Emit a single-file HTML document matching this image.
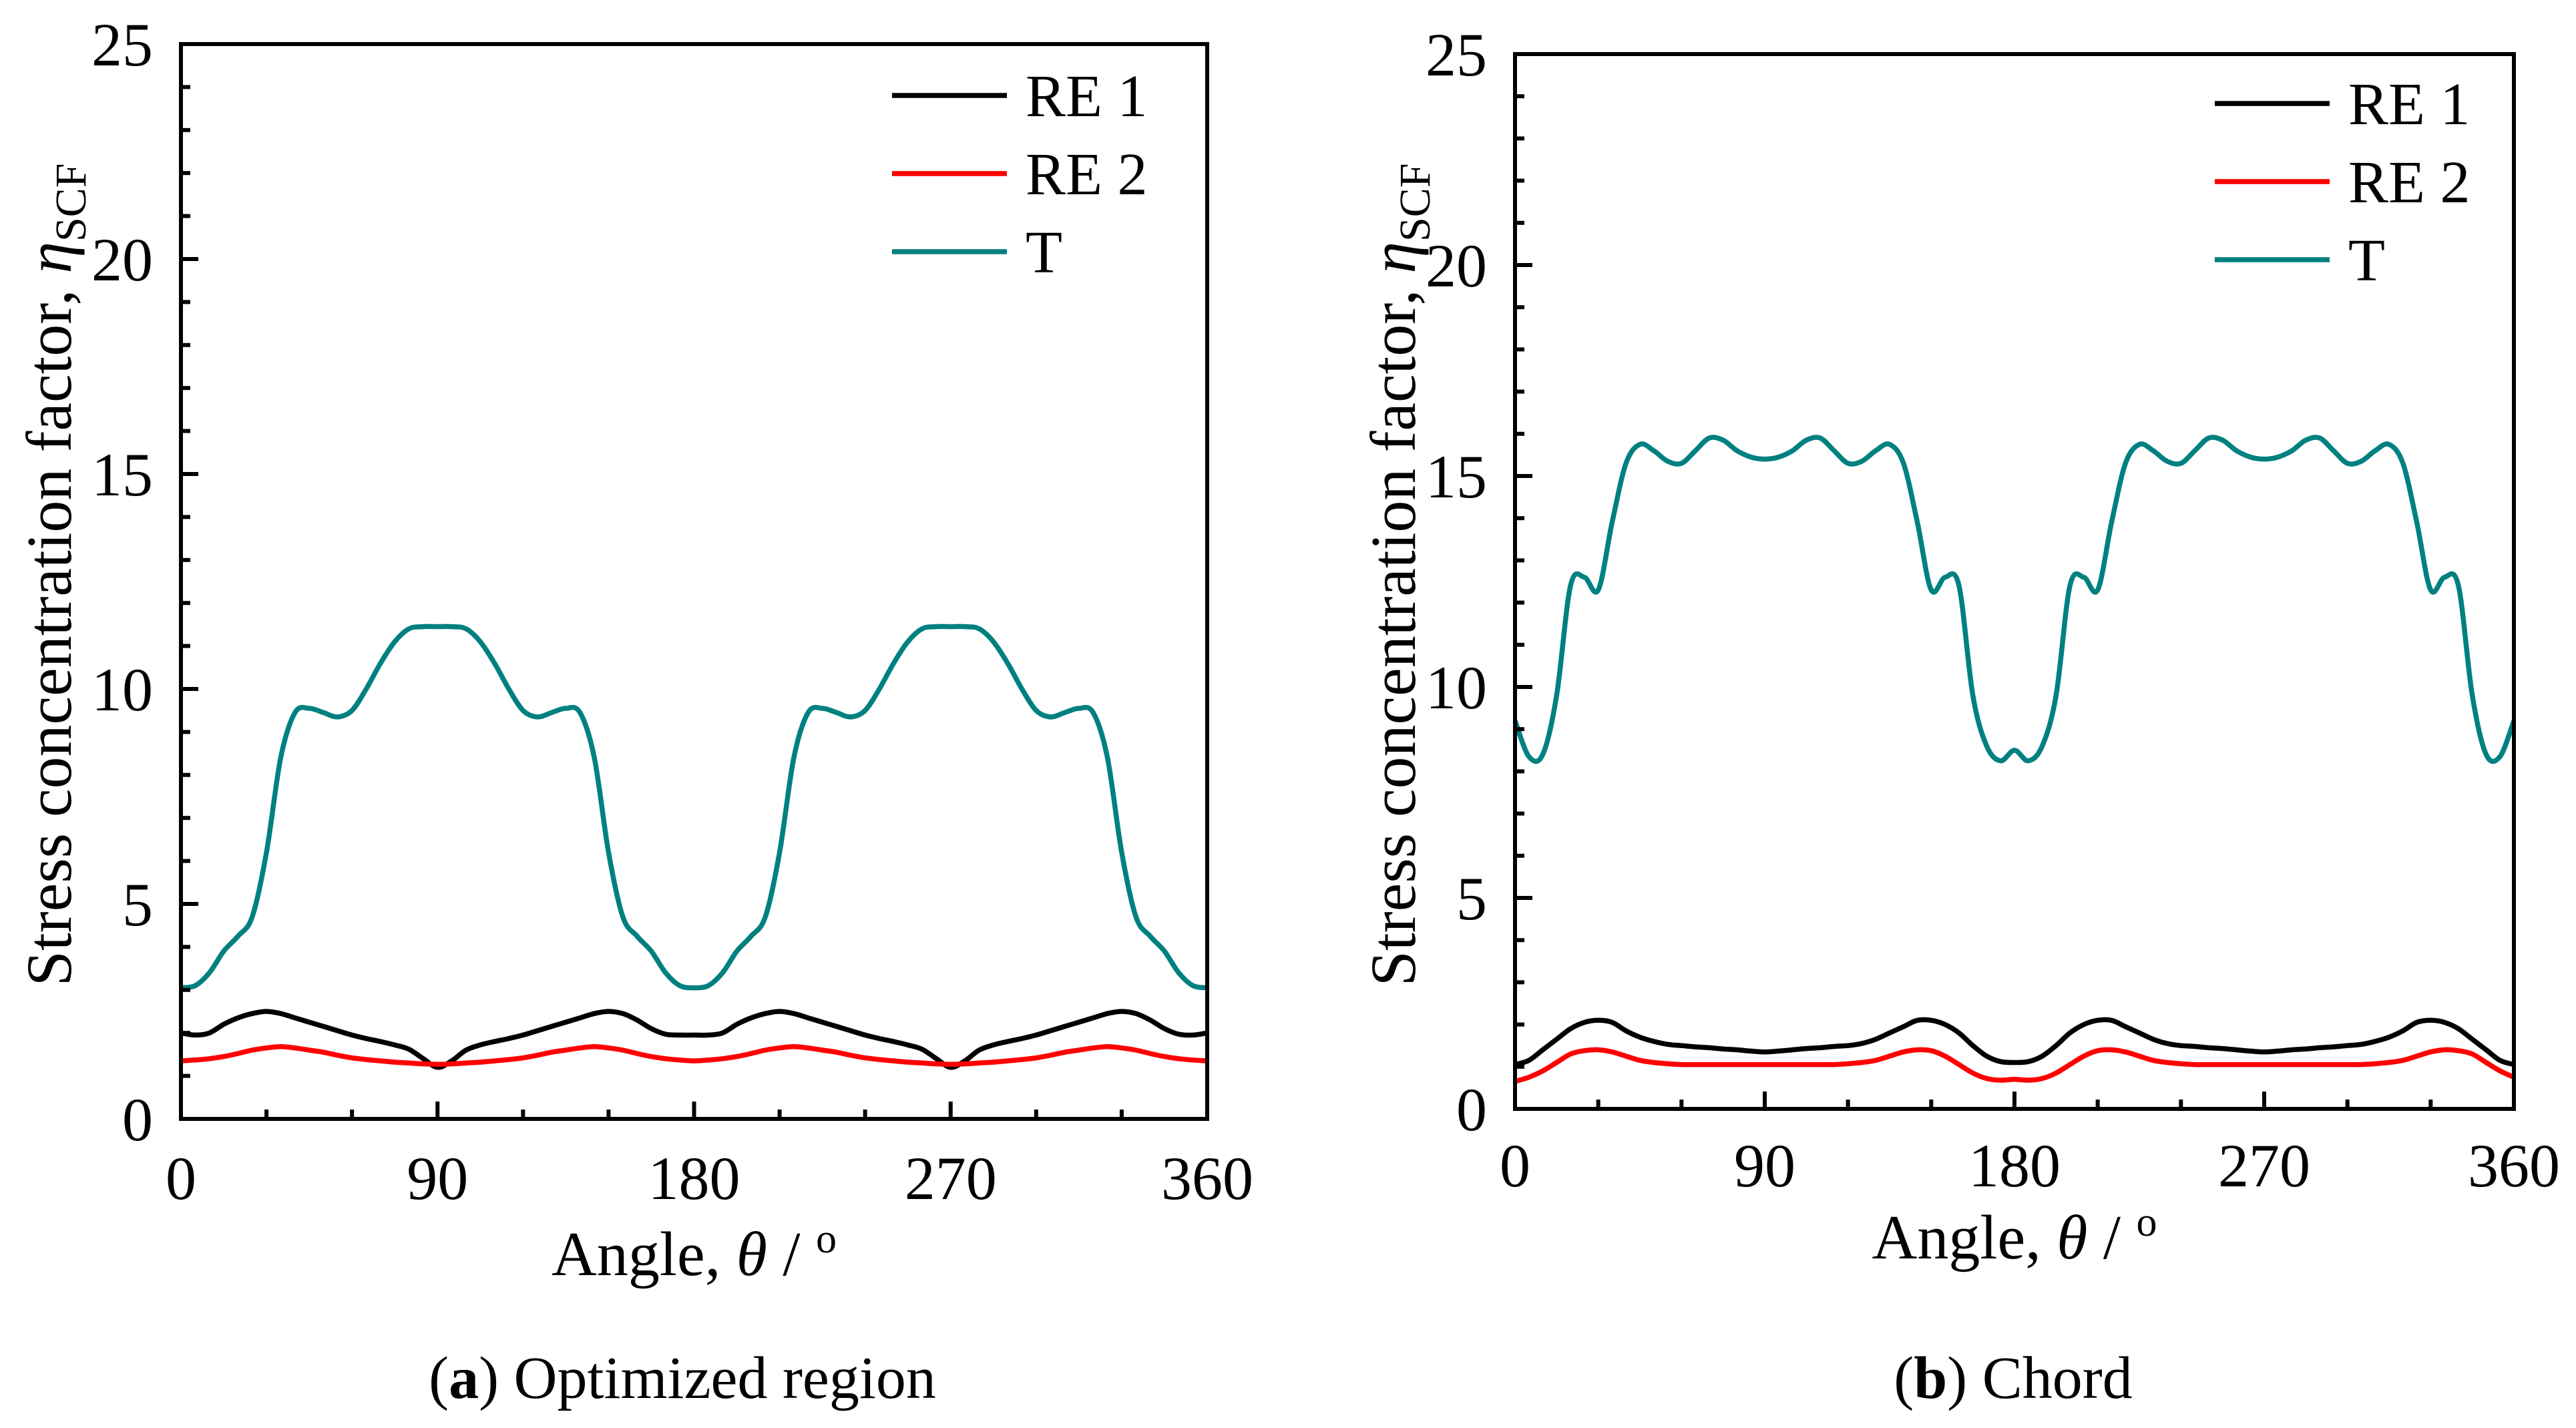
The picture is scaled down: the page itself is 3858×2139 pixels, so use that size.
<!DOCTYPE html>
<html><head><meta charset="utf-8"><style>
html,body{margin:0;padding:0;background:#fff;}
svg{display:block;font-family:"Liberation Serif",serif;}
</style></head><body>
<svg id="fig" width="3858" height="2139" viewBox="0 0 3858 2139" xmlns="http://www.w3.org/2000/svg"></svg>
<script>
const angles = [0,5,10,15,20,25,30,35,40,45,50,55,60,65,70,75,80,85,90,95,100,105,110,115,120,125,130,135,140,145,150,155,160,165,170,175,180,185,190,195,200,205,210,215,220,225,230,235,240,245,250,255,260,265,270,275,280,285,290,295,300,305,310,315,320,325,330,335,340,345,350,355,360];
const aT = [3.05,3.1,3.4,3.9,4.25,4.7,6.2,8.4,9.45,9.55,9.45,9.35,9.5,10.0,10.6,11.1,11.4,11.45,11.45,11.45,11.4,11.1,10.6,10.0,9.5,9.35,9.45,9.55,9.45,8.4,6.2,4.7,4.25,3.9,3.4,3.1,3.05,3.1,3.4,3.9,4.25,4.7,6.2,8.4,9.45,9.55,9.45,9.35,9.5,10.0,10.6,11.1,11.4,11.45,11.45,11.45,11.4,11.1,10.6,10.0,9.5,9.35,9.45,9.55,9.45,8.4,6.2,4.7,4.25,3.9,3.4,3.1,3.05];
const aRE1 = [2.0,1.95,2.0,2.2,2.35,2.45,2.5,2.45,2.35,2.25,2.15,2.05,1.95,1.87,1.8,1.72,1.62,1.4,1.2,1.35,1.6,1.72,1.8,1.87,1.95,2.05,2.15,2.25,2.35,2.45,2.5,2.45,2.3,2.1,1.97,1.95,1.95,1.95,2.0,2.2,2.35,2.45,2.5,2.45,2.35,2.25,2.15,2.05,1.95,1.87,1.8,1.72,1.62,1.4,1.2,1.35,1.6,1.72,1.8,1.87,1.95,2.05,2.15,2.25,2.35,2.45,2.5,2.45,2.3,2.1,1.97,1.95,2.0];
const aRE2 = [1.35,1.37,1.4,1.45,1.52,1.6,1.65,1.68,1.65,1.6,1.55,1.48,1.42,1.38,1.35,1.32,1.3,1.28,1.27,1.28,1.3,1.32,1.35,1.38,1.42,1.48,1.55,1.6,1.65,1.68,1.65,1.6,1.52,1.45,1.4,1.37,1.35,1.37,1.4,1.45,1.52,1.6,1.65,1.68,1.65,1.6,1.55,1.48,1.42,1.38,1.35,1.32,1.3,1.28,1.27,1.28,1.3,1.32,1.35,1.38,1.42,1.48,1.55,1.6,1.65,1.68,1.65,1.6,1.52,1.45,1.4,1.37,1.35];
const bT = [9.2,8.35,8.4,9.8,12.4,12.6,12.3,13.9,15.3,15.75,15.6,15.35,15.3,15.6,15.9,15.85,15.6,15.45,15.4,15.45,15.6,15.85,15.9,15.6,15.3,15.35,15.6,15.75,15.3,13.9,12.3,12.6,12.4,9.8,8.6,8.25,8.5,8.25,8.6,9.8,12.4,12.6,12.3,13.9,15.3,15.75,15.6,15.35,15.3,15.6,15.9,15.85,15.6,15.45,15.4,15.45,15.6,15.85,15.9,15.6,15.3,15.35,15.6,15.75,15.3,13.9,12.3,12.6,12.4,9.8,8.4,8.35,9.2];
const bRE1 = [1.05,1.15,1.4,1.65,1.9,2.05,2.1,2.05,1.85,1.7,1.6,1.53,1.5,1.47,1.45,1.42,1.4,1.37,1.35,1.37,1.4,1.43,1.45,1.48,1.5,1.55,1.65,1.8,1.95,2.1,2.1,2.0,1.8,1.5,1.25,1.12,1.1,1.12,1.25,1.5,1.8,2.0,2.1,2.1,1.95,1.8,1.65,1.55,1.5,1.48,1.45,1.43,1.4,1.37,1.35,1.37,1.4,1.42,1.45,1.47,1.5,1.53,1.6,1.7,1.85,2.05,2.1,2.05,1.9,1.65,1.4,1.15,1.05];
const bRE2 = [0.65,0.75,0.9,1.1,1.3,1.38,1.4,1.35,1.25,1.15,1.1,1.07,1.05,1.05,1.05,1.05,1.05,1.05,1.05,1.05,1.05,1.05,1.05,1.05,1.07,1.1,1.15,1.25,1.35,1.4,1.38,1.25,1.05,0.85,0.72,0.68,0.7,0.68,0.72,0.85,1.05,1.25,1.38,1.4,1.35,1.25,1.15,1.1,1.07,1.05,1.05,1.05,1.05,1.05,1.05,1.05,1.05,1.05,1.05,1.05,1.05,1.05,1.07,1.1,1.15,1.25,1.35,1.4,1.38,1.3,1.1,0.9,0.75,0.65];
const xTicks = [0,90,180,270,360];
const yTicks = [0,5,10,15,20,25];

const NS="http://www.w3.org/2000/svg";
const svg=document.getElementById('fig');
function mk(tag,attrs,parent){const e=document.createElementNS(NS,tag);for(const k in attrs)e.setAttribute(k,attrs[k]);(parent||svg).appendChild(e);return e;}

function pathFrom(xs,ys,sx,sy){
  const p=xs.map((x,i)=>[sx(x),sy(ys[i])]);
  let d=`M${p[0][0].toFixed(1)},${p[0][1].toFixed(1)}`;
  for(let i=0;i<p.length-1;i++){
    const p0=p[Math.max(0,i-1)],p1=p[i],p2=p[i+1],p3=p[Math.min(p.length-1,i+2)];
    const c1=[p1[0]+(p2[0]-p0[0])/6,p1[1]+(p2[1]-p0[1])/6];
    const c2=[p2[0]-(p3[0]-p1[0])/6,p2[1]-(p3[1]-p1[1])/6];
    d+=`C${c1[0].toFixed(1)},${c1[1].toFixed(1)} ${c2[0].toFixed(1)},${c2[1].toFixed(1)} ${p2[0].toFixed(1)},${p2[1].toFixed(1)}`;
  }
  return d;
}

function panel(cfg){
  const g=mk('g',{});
  
  
  const {x0,x1,y0,y1}=cfg;
  const sx=v=>x0+(v/360)*(x1-x0);
  const sy=v=>y0-(v/25)*(y0-y1);
  const series=[[cfg.T,'#008080','series-t'],[cfg.RE1,'#000000','series-re1'],[cfg.RE2,'#ff0000','series-re2']];
  series.forEach(s=>{
    const p=mk('path',{d:pathFrom(angles,s[0],sx,sy),fill:'none',stroke:s[1],'stroke-width':7.5,'stroke-linejoin':'round'},g);
    
    
  });
  const fr=mk('rect',{x:x0,y:y1,width:x1-x0,height:y0-y1,fill:'none',stroke:'#000','stroke-width':6},g);
  
  
  for(let v=0;v<=25;v++){
    const L=v%5===0?26:14;
    mk('line',{x1:x0,y1:sy(v),x2:x0+L,y2:sy(v),stroke:'#000','stroke-width':6},g);
  }
  for(let v=0;v<=360;v+=30){
    const L=v%90===0?26:14;
    mk('line',{x1:sx(v),y1:y0,x2:sx(v),y2:y0-L,stroke:'#000','stroke-width':6},g);
  }
  yTicks.forEach(v=>{
    const t=mk('text',{x:x0-42,y:sy(v)+32,'text-anchor':'end','font-size':92},g);t.textContent=v;
    
    
  });
  xTicks.forEach(v=>{
    const t=mk('text',{x:sx(v),y:cfg.xtickY,'text-anchor':'middle','font-size':92},g);t.textContent=v;
    
    
  });
  const xt=mk('text',{x:(x0+x1)/2,y:cfg.xlabY,'text-anchor':'middle','font-size':94},g);
  xt.innerHTML='Angle, <tspan font-style="italic">θ</tspan> / <tspan dy="-34" font-size="62">o</tspan>';
  
  
  const yt=mk('text',{x:0,y:0,'text-anchor':'middle','font-size':96,transform:`translate(${cfg.ylabX},${(y0+y1)/2-10}) rotate(-90)`},g);
  yt.innerHTML='Stress concentration factor, <tspan font-style="italic">η</tspan><tspan dy="22" font-size="66">SCF</tspan>';
  
  
  const leg=[['RE 1','#000000'],['RE 2','#ff0000'],['T','#008080']];
  leg.forEach((l,i)=>{
    const ly=cfg.legY+i*117;
    const lg=mk('g',{},g);
    
    
    mk('line',{x1:cfg.legX,y1:ly,x2:cfg.legX+172,y2:ly,stroke:l[1],'stroke-width':7.5},lg);
    const t=mk('text',{x:cfg.legX+200,y:ly+31,'font-size':90},lg);t.textContent=l[0];
  });
  const cap=mk('text',{x:cfg.capX,y:2094,'text-anchor':'middle','font-size':90},g);
  cap.innerHTML=cfg.cap;
  
  
}

panel({name:'panel-a',x0:271,x1:1808,y0:1676,y1:66,T:aT,RE1:aRE1,RE2:aRE2,ylabX:106,xtickY:1796,xlabY:1910,legX:1336,legY:143,capX:1022,cap:'(<tspan font-weight="bold">a</tspan>) Optimized region'});
panel({name:'panel-b',x0:2269,x1:3765,y0:1661,y1:81,T:bT,RE1:bRE1,RE2:bRE2,ylabX:2119,xtickY:1777,xlabY:1885,legX:3317,legY:155,capX:3015,cap:'(<tspan font-weight="bold">b</tspan>) Chord'});
</script>
</body></html>
